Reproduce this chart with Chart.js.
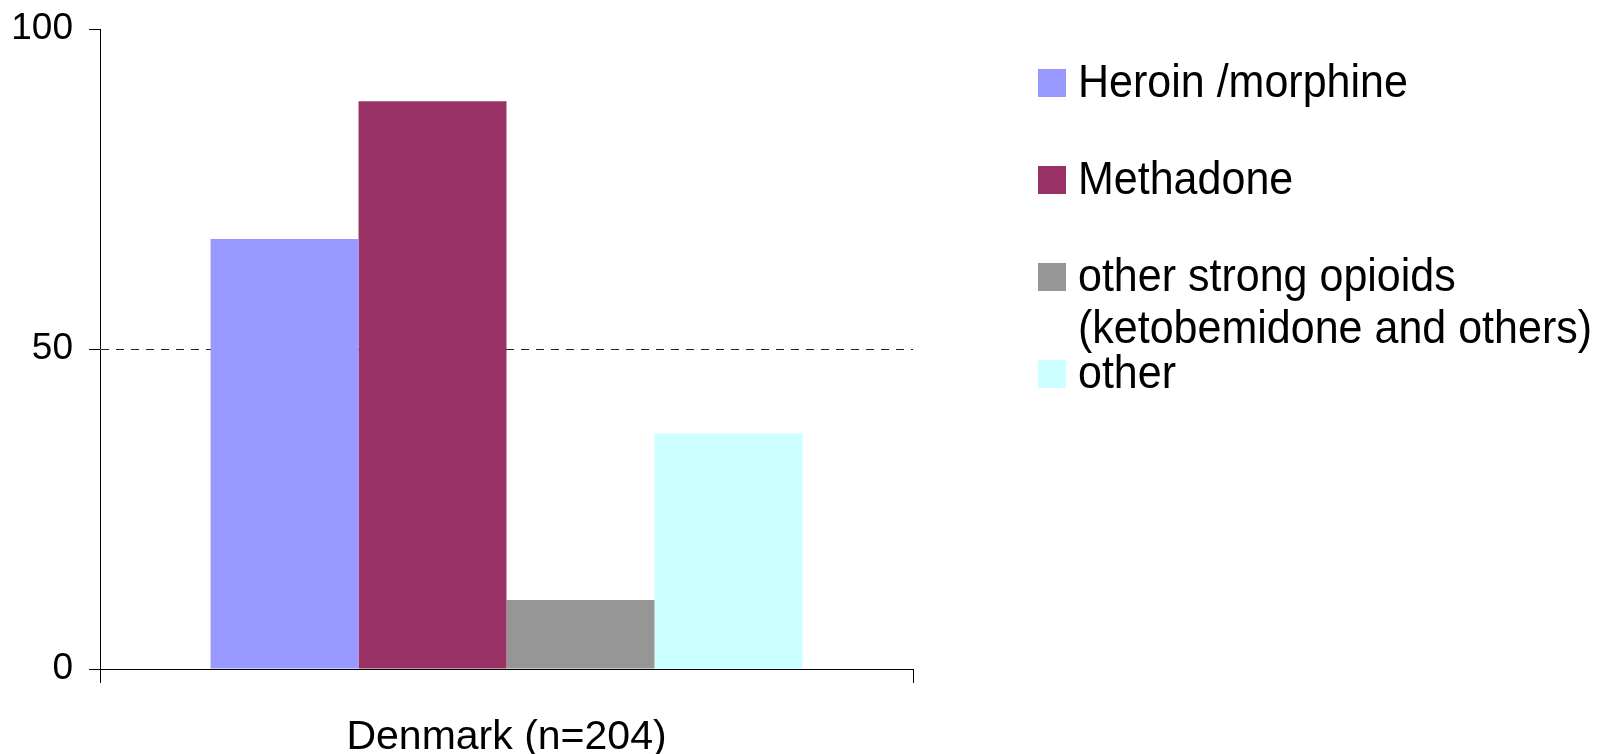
<!DOCTYPE html>
<html>
<head>
<meta charset="utf-8">
<script src="https://cdn.jsdelivr.net/npm/chart.js@4.4.0/dist/chart.umd.min.js"></script>
<style>
  html, body { margin: 0; padding: 0; background: #fff; }
  #wrap { width: 1606px; height: 754px; }
</style>
</head>
<body>
<div id="wrap"><canvas id="chart" width="1606" height="754"></canvas></div>
<script>
// Категории и значения (% от n=204)
const categories = ['Denmark (n=204)'];
const seriesNames = [
    ['Heroin /morphine'],
    ['Methadone'],
    ['other strong opioids', '(ketobemidone and others)'],
    ['other']
];
const heroinValues = [67.2];
const methadoneValues = [88.7];
const strongOpioidValues = [10.8];
const otherValues = [36.8];
const seriesColors = ['#9999FF', '#993366', '#969696', '#CCFFFF'];
const yTicks = [0, 50, 100];

const FONT = 'Liberation Sans';

const allValues = [heroinValues, methadoneValues, strongOpioidValues, otherValues];
const datasets = allValues.map((vals, i) => ({
    label: seriesNames[i].join(' '),
    lines: seriesNames[i],
    data: vals,
    backgroundColor: seriesColors[i],
    borderWidth: 0,
    categoryPercentage: 0.728,
    barPercentage: 1
}));

// Легенда справа - рисуем сами, чтобы строки шли с равным шагом
const sideLegend = {
    id: 'sideLegend',
    afterDraw(chart) {
        const ctx = chart.ctx;
        chart.data.datasets.forEach((ds, i) => {
            const cy = 83 + i * 97;
            ctx.save();
            ctx.fillStyle = ds.backgroundColor;
            ctx.fillRect(1038, cy - 14, 28, 28);
            // шрифт в оригинале чуть сжат по горизонтали
            ctx.translate(1078, 0);
            ctx.scale(0.935, 1);
            ctx.font = '46px "' + FONT + '"';
            ctx.textBaseline = 'alphabetic';
            ctx.fillStyle = '#000';
            ds.lines.forEach((line, k) => {
                ctx.fillText(line, 0, cy + 14 + k * 52);
            });
            ctx.restore();
        });
    }
};

const config = {
    type: 'bar',
    data: {
        labels: categories,
        datasets: datasets
    },
    options: {
        responsive: false,
        animation: false,
        layout: {
            padding: { top: 29, right: 693, left: 0, bottom: 0 }
        },
        plugins: {
            legend: { display: false },
            tooltip: { enabled: false }
        },
        scales: {
            x: {
                grid: {
                    drawOnChartArea: false,
                    tickLength: 14,
                    tickColor: '#000',
                    tickWidth: 1
                },
                border: { color: '#000', width: 1 },
                ticks: {
                    color: '#000',
                    font: { family: FONT, size: 41 },
                    padding: 30
                },
                afterFit: s => {
                    s.height = 85;
                    s.paddingLeft = 0;
                    s.paddingRight = 0;
                }
            },
            y: {
                min: 0,
                max: 100,
                afterBuildTicks: s => {
                    s.ticks = yTicks.map(v => ({ value: v }));
                },
                grid: {
                    color: c => (c.tick && c.tick.value === 50) ? '#222' : 'rgba(0,0,0,0)',
                    lineWidth: 1,
                    tickColor: '#000',
                    tickLength: 11
                },
                border: { color: '#000', width: 1, dash: [8, 7] },
                ticks: {
                    color: '#000',
                    font: { family: FONT, size: 37 },
                    padding: 16
                },
                afterFit: s => {
                    s.width = 100;
                    // подписи не должны сдвигать область графика
                    s.paddingTop = 0;
                    s.paddingBottom = 0;
                }
            }
        }
    },
    plugins: [sideLegend]
};

const chart = new Chart(document.getElementById('chart'), config);
</script>
</body>
</html>
